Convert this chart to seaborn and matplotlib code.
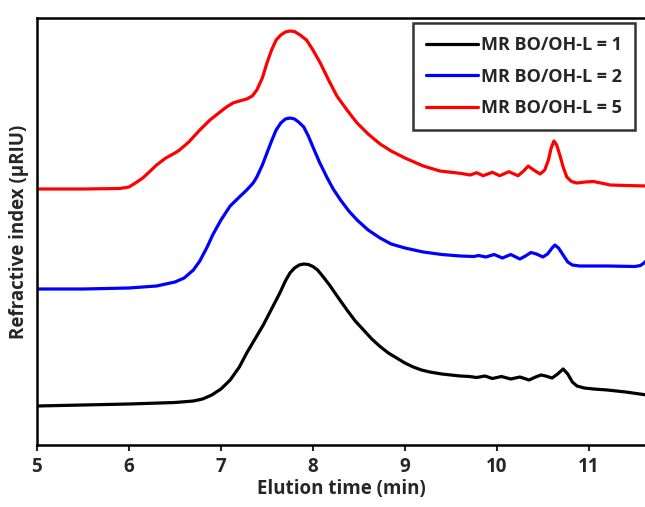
import numpy as np
import pandas as pd
import matplotlib
matplotlib.use("Agg")
import matplotlib.pyplot as plt
import seaborn as sns

# (offset traces, arbitrary units)
t_mr1 = [5.0, 5.5, 6.0, 6.5, 6.7, 6.8, 6.9, 7.0, 7.1, 7.2, 7.28, 7.37, 7.46, 7.55, 7.64,
         7.7, 7.75, 7.8, 7.85, 7.9, 7.95, 8.0, 8.05, 8.1, 8.18, 8.27, 8.37, 8.46, 8.55,
         8.64, 8.73, 8.82, 8.91, 9.0, 9.09, 9.18, 9.27, 9.4, 9.5, 9.6, 9.7, 9.78, 9.87,
         9.95, 10.05, 10.15, 10.25, 10.35, 10.42, 10.48, 10.53, 10.6, 10.66, 10.72, 10.77,
         10.82, 10.87, 10.95, 11.05, 11.2, 11.4, 11.63]
ri_mr1 = [39, 40, 41, 42.5, 44, 46, 50, 56, 65, 78, 92, 106, 120, 136, 152,
          164, 172, 177, 180, 181, 180.5, 178.5, 175, 169.5, 160, 148, 135, 124, 115,
          106, 98.5, 92, 87, 82, 78, 75, 73, 71, 70, 69, 68.5, 67.5, 69,
          66.5, 68.5, 66, 68, 65, 68, 70, 69, 67, 71, 76, 71,
          63, 59, 57, 56, 55, 53, 50]

t_mr2 = [5.0, 5.5, 6.0, 6.3, 6.5, 6.6, 6.7, 6.77, 6.85, 6.91, 7.0, 7.1, 7.2, 7.28, 7.35,
         7.39, 7.45, 7.5, 7.55, 7.6, 7.65, 7.7, 7.75, 7.8, 7.85, 7.9, 7.95, 8.0, 8.07,
         8.15, 8.22, 8.3, 8.39, 8.48, 8.6, 8.73, 8.85, 9.0, 9.2, 9.4, 9.6, 9.75, 9.8,
         9.88, 9.97, 10.06, 10.15, 10.25, 10.31, 10.37, 10.43, 10.5, 10.55, 10.6, 10.63,
         10.67, 10.72, 10.77, 10.82, 10.9, 11.2, 11.5, 11.56, 11.6, 11.63]
ri_mr2 = [156, 156, 157, 159, 163, 167, 175, 184, 198, 210, 225, 239, 248, 255, 262,
          268, 280, 292, 304, 315, 322, 326, 327, 326, 322.5, 318, 309, 298, 283,
          268, 256, 245, 234, 225, 215, 207, 201, 197, 193, 190.5, 189, 188.5, 189.5,
          188, 190.5, 187, 190.5, 186, 189, 192.5, 191, 188, 191, 197, 200,
          197, 190, 183, 180, 179, 179, 178.5, 179.5, 182, 185]

t_mr5 = [5.0, 5.5, 5.9, 6.0, 6.07, 6.15, 6.22, 6.3, 6.4, 6.5, 6.55, 6.65, 6.77, 6.88,
         6.99, 7.06, 7.13, 7.2, 7.28, 7.34, 7.39, 7.45, 7.5, 7.55, 7.6, 7.65, 7.7, 7.75,
         7.8, 7.86, 7.93, 8.0, 8.08, 8.17, 8.26, 8.37, 8.48, 8.6, 8.73, 8.85, 9.0, 9.2,
         9.38, 9.6, 9.71, 9.78, 9.85, 9.95, 10.03, 10.13, 10.23, 10.29, 10.34, 10.4,
         10.47, 10.52, 10.56, 10.59, 10.62, 10.65, 10.69, 10.72, 10.76, 10.81, 10.87,
         10.96, 11.05, 11.13, 11.23, 11.4, 11.63]
ri_mr5 = [256, 256, 256.5, 258, 262, 267, 273, 280, 287, 292, 295, 303, 315, 325,
          333, 338, 342, 344, 346, 349, 355, 367, 382, 395, 405, 410, 413, 414,
          413.5, 410, 405, 395, 382, 365, 349, 335, 322, 311, 301, 294, 287, 279,
          274, 271.7, 270, 272.3, 269.3, 272.7, 269.3, 273.3, 269.3, 274, 279, 275,
          271, 275, 285, 297, 304, 300, 288, 278, 268, 263.5, 262,
          263, 263.5, 262, 260, 259.5, 259]

labels = ["MR BO/OH-L = 1", "MR BO/OH-L = 2", "MR BO/OH-L = 5"]
colors = ["black", "blue", "red"]

df = pd.concat([
    pd.DataFrame({"t": t_mr1, "ri": ri_mr1, "sample": labels[0]}),
    pd.DataFrame({"t": t_mr2, "ri": ri_mr2, "sample": labels[1]}),
    pd.DataFrame({"t": t_mr5, "ri": ri_mr5, "sample": labels[2]}),
])

sns.set_style("white")
plt.rcParams['font.family'] = ['Open Sans', 'DejaVu Sans']
plt.rcParams['font.weight'] = 'bold'

fig = plt.figure(figsize=(6.45, 5.07), dpi=100)
ax = fig.add_axes([37 / 645, 62 / 507, 608 / 645, 427 / 507])

sns.lineplot(data=df, x="t", y="ri", hue="sample", palette=colors,
             sort=False, estimator=None, linewidth=2.3, ax=ax)

ax.set_xlim(5, 11.61)
ax.set_ylim(0, 427)
ax.set_xticks(range(5, 12))
ax.set_yticks([])
ax.tick_params(axis='x', direction='out', length=4, width=1.5, labelsize=13.5, pad=5,
               bottom=True)
for lab in ax.get_xticklabels():
    lab.set_fontweight('bold')
ax.set_xlabel("Elution time (min)", fontsize=13.5, fontweight='bold', labelpad=1)
ax.set_ylabel("Refractive index (μRIU)", fontsize=13.5, fontweight='bold', labelpad=6)

for side in ['left', 'bottom', 'top']:
    ax.spines[side].set_visible(True)
    ax.spines[side].set_color('black')
    ax.spines[side].set_linewidth(1.8)
ax.spines['right'].set_visible(False)

leg = ax.legend(title=None, loc='upper right', bbox_to_anchor=(0.992, 1.0),
                fontsize=13, frameon=True, fancybox=False, edgecolor='black',
                handlelength=2.9, handletextpad=0.15, borderpad=0.7, labelspacing=0.75,
                borderaxespad=0.3)
leg.get_frame().set_linewidth(1.8)
for txt in leg.get_texts():
    txt.set_fontweight('bold')

fig.savefig("out.png", dpi=100)
